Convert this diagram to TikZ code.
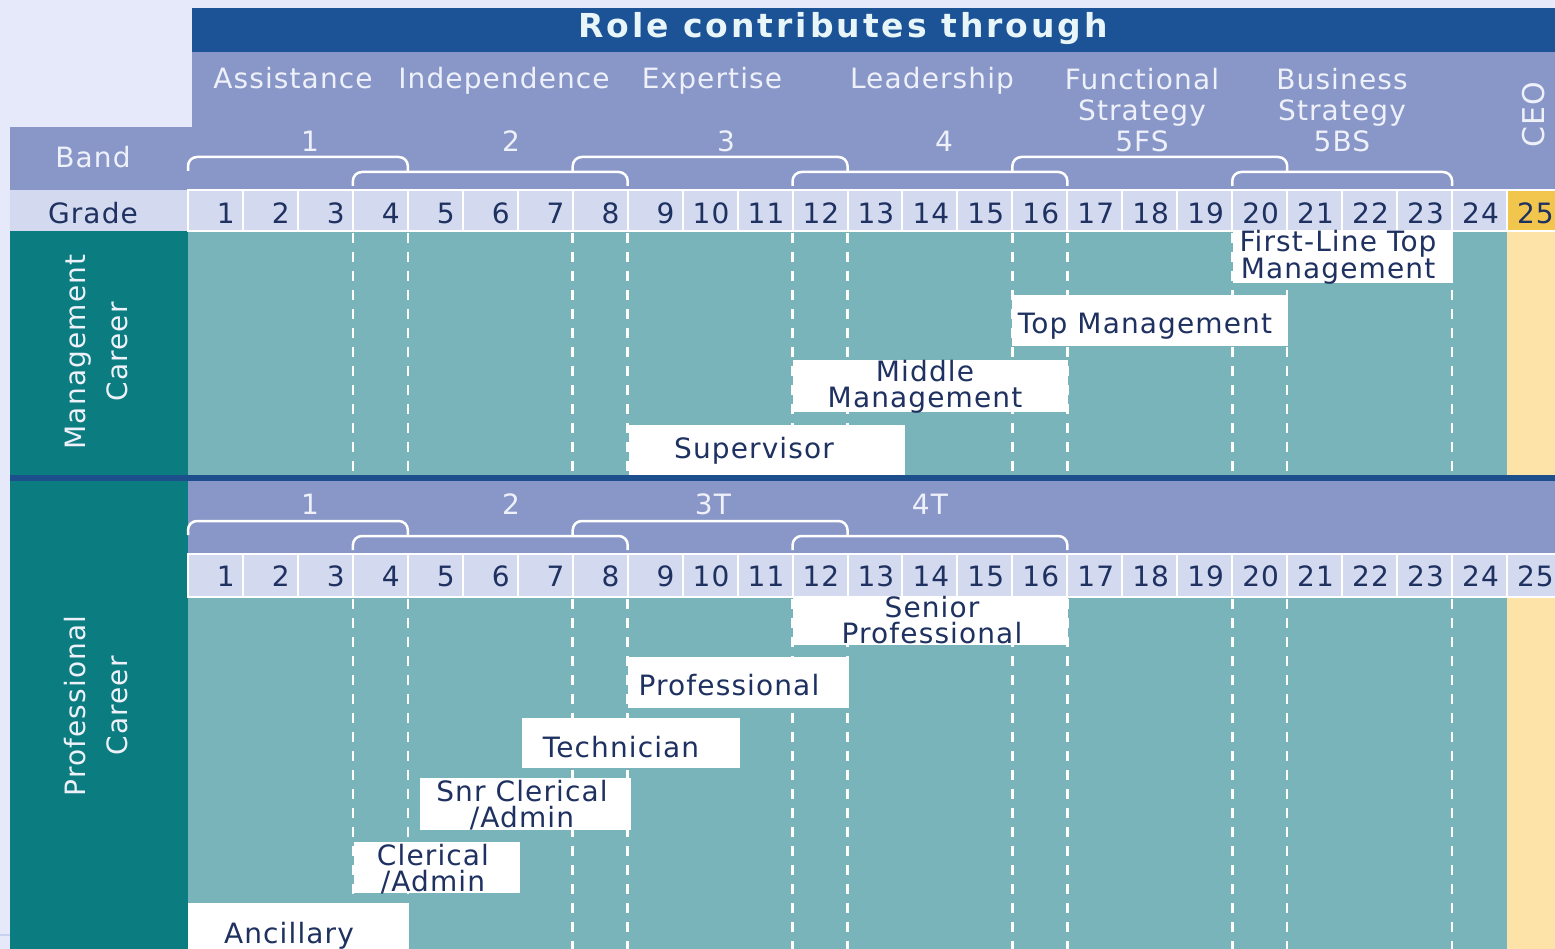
\documentclass[tikz,border=0pt]{standalone}
\usepackage{fontspec}
\setmainfont{DejaVu Sans}[LetterSpace=4]
\newfontfamily\titlefont{DejaVu Sans}[LetterSpace=9]
\definecolor{bgc}{HTML}{E6E9F9}
\definecolor{hdr}{HTML}{1C5396}
\definecolor{bandc}{HTML}{8997C8}
\definecolor{gradec}{HTML}{D3D9EE}
\definecolor{tealdk}{HTML}{0B7D80}
\definecolor{bodyc}{HTML}{78B4BA}
\definecolor{ceoc}{HTML}{FDE3A7}
\definecolor{goldc}{HTML}{F2C64C}
\definecolor{divc}{HTML}{1D4F8C}
\definecolor{navy}{HTML}{1E3160}
\definecolor{hdrtxt}{HTML}{EEF1FA}
\definecolor{titletxt}{HTML}{E8F6FA}
\definecolor{edgec}{HTML}{C9D1F0}
\begin{document}
\begin{tikzpicture}[x=1pt,y=-1pt,
  lbl/.style={font=\fontsize{28}{25}\selectfont, text=navy, inner sep=0pt, align=center},
  wlbl/.style={font=\fontsize{28}{31}\selectfont, text=hdrtxt, inner sep=0pt, align=center},
  numlbl/.style={font=\fontsize{28}{28}\selectfont, text=navy, inner sep=0pt, anchor=east},
  rolebox/.style={fill=white, draw=none, inner sep=0pt, anchor=north west},
  gline/.style={draw=white, dash pattern=on 10pt off 9pt, line width=2.5pt},
  brk/.style={draw=white, line width=2.5pt, rounded corners=9pt},
  cellbox/.style={draw=white, line width=2pt},
]
\useasboundingbox (0,0) rectangle (1555,949);
\fill[bgc] (0,0) rectangle (1555,949);
% header
\fill[hdr] (192,8) rectangle (1555,52);
\node[font=\titlefont\bfseries\fontsize{33}{33}\selectfont, text=titletxt, inner sep=0pt] (title) at (843,29) {Role contributes through};
\fill[bandc] (192,52) rectangle (1555,190);
\fill[bandc] (10,127) rectangle (192,190);
% grade row (management)
\fill[gradec] (10,190) rectangle (1555,231);
% bodies
\fill[tealdk] (10,231) rectangle (188,949);
\fill[bodyc] (188,231) rectangle (1507,475);
\fill[ceoc] (1507,231) rectangle (1555,475);
\fill[bandc] (188,481) rectangle (1555,554);
\fill[bodyc] (188,597) rectangle (1507,949);
\fill[ceoc] (1507,597) rectangle (1555,949);
\fill[divc] (10,475) rectangle (1555,481);
\draw[edgec, line width=2pt] (0,935) -- (10,935);
% grade cells
\foreach \k in {1,...,25} {
  \pgfmathsetmacro\xa{188+(\k-1)*54.96}
  \pgfmathsetmacro\xb{188+\k*54.96}
  \ifnum\k=25
    \filldraw[cellbox, fill=goldc] (\xa,190) rectangle (\xb,231);
  \else
    \filldraw[cellbox, fill=gradec] (\xa,190) rectangle (\xb,231);
  \fi
  \filldraw[cellbox, fill=gradec] (\xa,554) rectangle (\xb,597);
  \node[numlbl] (mg\k) at (\xb-8,213) {\k};
  \node[numlbl] (pg\k) at (\xb-8,576) {\k};
}
% dashed grade boundaries
\foreach \k in {3,4,7,8,11,12,15,16,19,20,23} {
  \pgfmathsetmacro\xx{188+\k*54.96}
  \draw[gline] (\xx,233) -- (\xx,475);
  \draw[gline] (\xx,599) -- (\xx,949);
}
% brackets management
\foreach \a/\b/\y in {0/4/157, 3/8/172, 7/12/157, 11/16/172, 15/20/157, 19/23/172} {
  \pgfmathsetmacro\xa{188+\a*54.96}
  \pgfmathsetmacro\xb{188+\b*54.96}
  \pgfmathsetmacro\yb{\y+14}
  \draw[brk] (\xa,\yb) -- (\xa,\y) -- (\xb,\y) -- (\xb,\yb);
}
% brackets professional
\foreach \a/\b/\y in {0/4/521, 3/8/536, 7/12/521, 11/16/536} {
  \pgfmathsetmacro\xa{188+\a*54.96}
  \pgfmathsetmacro\xb{188+\b*54.96}
  \pgfmathsetmacro\yb{\y+14}
  \draw[brk] (\xa,\yb) -- (\xa,\y) -- (\xb,\y) -- (\xb,\yb);
}
% header labels
\node[wlbl, anchor=base] (assist) at (293,89) {Assistance};
\node[wlbl, anchor=base] (indep) at (504,89) {Independence};
\node[wlbl, anchor=base] (expert) at (712,89) {Expertise};
\node[wlbl, anchor=base] (lead) at (932,89) {Leadership};
\node[wlbl] (func) at (1142,110) {Functional\\Strategy\\5FS};
\node[wlbl] (bus) at (1342,110) {Business\\Strategy\\5BS};
\node[wlbl, rotate=90, font=\fontsize{30}{30}\selectfont] (ceo) at (1534,115) {CEO};
\node[wlbl] (b1) at (310,141) {1};
\node[wlbl] (b2) at (511,141) {2};
\node[wlbl] (b3) at (726,141) {3};
\node[wlbl] (b4) at (944,141) {4};
\node[wlbl] (band) at (93,157) {Band};
\node[lbl] (grade) at (93,213) {Grade};
\node[wlbl] (p1) at (310,504) {1};
\node[wlbl] (p2) at (511,504) {2};
\node[wlbl] (p3) at (713,504) {3T};
\node[wlbl] (p4) at (930,504) {4T};
% side labels
\node[wlbl, rotate=90, font=\fontsize{28}{42}\selectfont] (mc) at (96,352) {Management\\Career};
\node[wlbl, rotate=90, font=\fontsize{28}{42}\selectfont] (pc) at (96,706) {Professional\\Career};
% management boxes
\node[rolebox, minimum width=220pt, minimum height=52pt] (fltm) at (1233,231) {};
\node[lbl, font=\fontsize{28}{27}\selectfont] (fltmt) at (1338,257) {First-Line Top\\Management};
\node[rolebox, minimum width=276pt, minimum height=51pt] (topm) at (1012,295) {};
\node[lbl] (topmt) at (1145,326) {Top Management};
\node[rolebox, minimum width=275pt, minimum height=52pt] (midm) at (793,360) {};
\node[lbl, font=\fontsize{28}{26}\selectfont] (midmt) at (925,387) {Middle\\Management};
\node[rolebox, minimum width=276pt, minimum height=50pt] (sup) at (629,425) {};
\node[lbl] (supt) at (754,451) {Supervisor};
% professional boxes
\node[rolebox, minimum width=275pt, minimum height=48pt] (senp) at (793,597) {};
\node[lbl, font=\fontsize{28}{26}\selectfont] (senpt) at (932,620) {Senior\\Professional};
\node[rolebox, minimum width=221pt, minimum height=51pt] (prof) at (628,657) {};
\node[lbl] (proft) at (729,685) {Professional};
\node[rolebox, minimum width=218pt, minimum height=50pt] (tech) at (522,718) {};
\node[lbl] (techt) at (621,747) {Technician};
\node[rolebox, minimum width=211pt, minimum height=52pt] (snr) at (420,778) {};
\node[lbl, font=\fontsize{28}{26}\selectfont] (snrt) at (522,805) {Snr Clerical\\/Admin};
\node[rolebox, minimum width=166pt, minimum height=51pt] (cler) at (354,842) {};
\node[lbl, font=\fontsize{28}{26}\selectfont] (clert) at (433,869) {Clerical\\/Admin};
\node[rolebox, minimum width=221pt, minimum height=47pt] (anc) at (188,903) {};
\node[lbl] (anct) at (289,936) {Ancillary};
\end{tikzpicture}
\end{document}
